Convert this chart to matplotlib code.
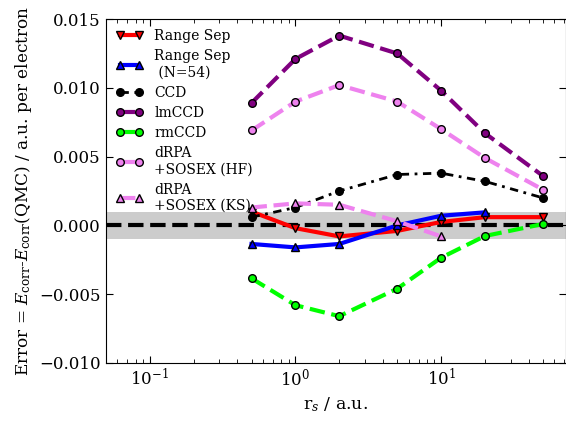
import numpy as np
import matplotlib
matplotlib.use('Agg')
import matplotlib.pyplot as plt

plt.rcParams['font.family'] = 'DejaVu Serif'
plt.rcParams['mathtext.fontset'] = 'dejavuserif'

rs = [0.5, 1, 2, 5, 10, 20, 50]
range_sep = [0.0010, -0.0002, -0.0008, -0.0004, 0.00025, 0.0006, 0.0006]
rs_54 = [0.5, 1, 2, 5, 10, 20]
range_sep_54 = [-0.00135, -0.0016, -0.00135, 0.0, 0.0007, 0.00095]
ccd = [0.0006, 0.0013, 0.0025, 0.0037, 0.0038, 0.0032, 0.0020]
lmccd = [0.0089, 0.0121, 0.0138, 0.0125, 0.0098, 0.0067, 0.0036]
rmccd = [-0.00385, -0.0058, -0.0066, -0.0046, -0.00235, -0.00077, 0.0001]
sosex_hf = [0.0069, 0.0090, 0.0102, 0.0090, 0.0070, 0.0049, 0.0026]
rs_ks = [0.5, 1, 2, 5, 10]
sosex_ks = [0.0013, 0.0016, 0.0015, 0.0003, -0.0008]

fig = plt.figure(figsize=(5.66, 4.24), dpi=100)
ax = fig.add_axes([0.187, 0.144, 0.813, 0.811])

ax.axhspan(-0.001, 0.001, color='0.8', lw=0, zorder=0)
ax.axhline(0, color='k', ls='--', lw=3, zorder=1)

mk = dict(markeredgecolor='k', markersize=5.5, markeredgewidth=1)
ax.plot(rs, range_sep, '-', color='red', lw=3, marker='v', markerfacecolor='red', label='Range Sep', **mk)
ax.plot(rs_54, range_sep_54, '-', color='blue', lw=3, marker='^', markerfacecolor='blue', label='Range Sep\n (N=54)', **mk)
ax.plot(rs, ccd, color='k', lw=2, dashes=(3, 2, 1, 2), marker='o', markerfacecolor='k', label='CCD', **mk)
ax.plot(rs, lmccd, '--', color='purple', lw=3, marker='o', markerfacecolor='purple', label='lmCCD', **mk)
ax.plot(rs, rmccd, '--', color='lime', lw=3, marker='o', markerfacecolor='lime', label='rmCCD', **mk)
ax.plot(rs, sosex_hf, '--', color='violet', lw=3, marker='o', markerfacecolor='violet', label='dRPA\n+SOSEX (HF)', **mk)
ax.plot(rs_ks, sosex_ks, '--', color='violet', lw=3, marker='^', markerfacecolor='violet', label='dRPA\n+SOSEX (KS)', **mk)

ax.set_xscale('log')
ax.set_xlim(0.05, 72)
ax.set_ylim(-0.010, 0.015)
ax.set_yticks([-0.010, -0.005, 0.0, 0.005, 0.010, 0.015])
ax.tick_params(which='both', direction='in', top=True, right=True, labelsize=12)
ax.tick_params(which='major', length=5)
ax.tick_params(which='minor', length=3)

ax.set_xlabel(r'r$_s$ / a.u.', fontsize=12.5)
ax.set_ylabel(r'Error = $E_{\rm corr}$-$E_{\rm corr}$(QMC) / a.u. per electron', fontsize=12.2)

ax.legend(loc='upper left', frameon=False, fontsize=10, numpoints=2, handlelength=2.0,
          borderaxespad=0.3, labelspacing=0.45)

fig.savefig('out.png', dpi=100)
